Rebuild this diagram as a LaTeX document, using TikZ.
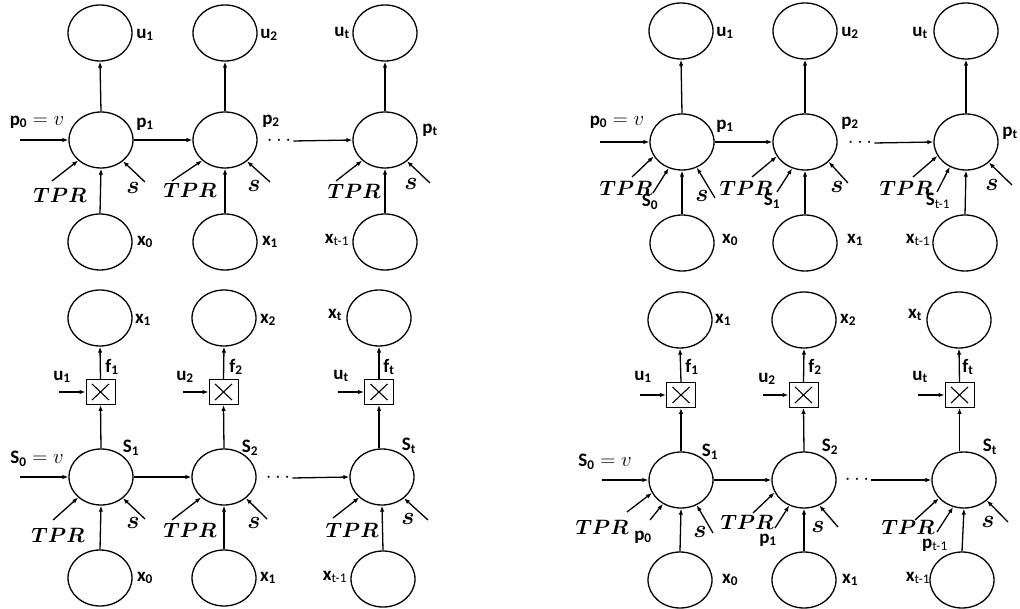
\documentclass[tikz,border=0pt]{standalone}
\usepackage{fontspec}
\setsansfont{Carlito}
\usepackage{bm}
\usetikzlibrary{shapes.geometric,arrows.meta}
\newcommand{\eqv}{{\fontsize{21}{24}\selectfont${}=v$}}
\newcommand{\TPRlab}{$\bm{TPR}$}
\newcommand{\slab}{{\fontsize{23}{26}\selectfont$\bm{s}$}}
\newcommand{\tmo}{\textsubscript{\mdseries t-1}}
\begin{document}
\begin{tikzpicture}[x=1pt,y=-1pt,
 ell/.style={ellipse, draw, line width=1.3pt, minimum width=64pt, minimum height=56pt, inner sep=0pt},
 mul/.style={rectangle, draw, line width=0.9pt, minimum width=29pt, minimum height=25pt, inner sep=0pt,
   path picture={\draw[line width=1.1pt]
     ([shift={(-8.5pt,-8pt)}]path picture bounding box.center) -- ([shift={(8.5pt,8pt)}]path picture bounding box.center)
     ([shift={(-8.5pt,8pt)}]path picture bounding box.center) -- ([shift={(8.5pt,-8pt)}]path picture bounding box.center);}},
 arr/.style={-{Latex[length=6pt,width=4.5pt]}, line width=1.3pt},
 lab/.style={font=\fontsize{19}{22}\sffamily\bfseries\selectfont, inner sep=0pt},
 mth/.style={font=\fontsize{21}{24}\selectfont, inner sep=0pt},
 dts/.style={font=\fontsize{20}{22}\selectfont, inner sep=2pt}]
\useasboundingbox (0,0) rectangle (1020,609);

%%%%%%%%%%%%%%%% Panel A (top left)
\node[ell] (Au1) at (100,33) {};
\node[ell] (Au2) at (225,33) {};
\node[ell] (Aut) at (385,33) {};
\node[ell] (Ap1) at (101,140) {};
\node[ell] (Ap2) at (225,140) {};
\node[ell] (Apt) at (385,140) {};
\node[ell] (Ax0) at (100,242) {};
\node[ell] (Ax1) at (225,242) {};
\node[ell] (Axt) at (385,242) {};
\node[lab] (Lau1) at (145,35) {u\textsubscript{1}};
\node[lab] (Lau2) at (269,35) {u\textsubscript{2}};
\node[lab] (Laut) at (342,33) {u\textsubscript{t}};
\node[lab] (Lap0) at (37,122) {p\textsubscript{0}\eqv};
\node[lab] (Lap1) at (145,124) {p\textsubscript{1}};
\node[lab] (Lap2) at (271,121) {p\textsubscript{2}};
\node[lab] (Lapt) at (430,130) {p\textsubscript{t}};
\node[lab] (Lax0) at (145,242) {x\textsubscript{0}};
\node[lab] (Lax1) at (270,242) {x\textsubscript{1}};
\node[lab] (Laxt) at (337,240) {x\tmo};
\node[mth] (Lat1) at (60,195) {\TPRlab};
\node[mth] (Lat2) at (190,190) {\TPRlab};
\node[mth] (Lat3) at (354,191) {\TPRlab};
\node[mth] (Las1) at (133,188) {\slab};
\node[mth] (Las2) at (254,186) {\slab};
\node[mth] (Las3) at (411,184) {\slab};
\node[dts] (Adots) at (279,141) {$\cdots$};
\coordinate (Ain) at (20,140);
\coordinate (Aa1) at (52,181); \coordinate (Ab1) at (145,182);
\coordinate (Aa2) at (172,181); \coordinate (Ab2) at (270,182);
\coordinate (Aa3) at (336,181); \coordinate (Ab3) at (430,183);
\draw[arr] (Ain) -- (Ap1.west);
\draw[arr] (Ap1.east) -- (Ap2.west);
\draw[arr] (Adots.east) -- (Apt.west);
\draw[arr] (Ap1.north) -- (Au1.south);
\draw[arr] (Ap2.north) -- (Au2.south);
\draw[arr] (Apt.north) -- (Aut.south);
\draw[arr] (Ax0.north) -- (Ap1.south);
\draw[arr] (Ax1.north) -- (Ap2.south);
\draw[arr] (Axt.north) -- (Apt.south);
\draw[arr] (Aa1) -- (Ap1.222); \draw[arr] (Ab1) -- (Ap1.316);
\draw[arr] (Aa2) -- (Ap2.222); \draw[arr] (Ab2) -- (Ap2.316);
\draw[arr] (Aa3) -- (Apt.222); \draw[arr] (Ab3) -- (Apt.316);

%%%%%%%%%%%%%%%% Panel B (bottom left)
\node[ell] (Bx1) at (100,318) {};
\node[ell] (Bx2) at (224,318) {};
\node[ell] (Bxt) at (379,318) {};
\node[mul] (Bm1) at (100.5,392) {};
\node[mul] (Bm2) at (223.5,392) {};
\node[mul] (Bmt) at (379,392) {};
\node[ell] (BS1) at (101,477) {};
\node[ell] (BS2) at (224,477) {};
\node[ell] (BSt) at (382,477) {};
\node[ell] (By0) at (100,578) {};
\node[ell] (By1) at (224,578) {};
\node[ell] (Byt) at (383,579) {};
\node[lab] (Lbx1) at (143,320) {x\textsubscript{1}};
\node[lab] (Lbx2) at (268,320) {x\textsubscript{2}};
\node[lab] (Lbxt) at (335,315) {x\textsubscript{t}};
\node[lab] (Lbf1) at (112,367) {f\textsubscript{1}};
\node[lab] (Lbf2) at (236,367) {f\textsubscript{2}};
\node[lab] (Lbft) at (389,367) {f\textsubscript{t}};
\node[lab] (Lbu1) at (62,377) {u\textsubscript{1}};
\node[lab] (Lbu2) at (185,377) {u\textsubscript{2}};
\node[lab] (Lbut) at (341,376) {u\textsubscript{t}};
\node[lab] (LbS0) at (37,459) {S\textsubscript{0}\eqv};
\node[lab] (LbS1) at (131,448) {S\textsubscript{1}};
\node[lab] (LbS2) at (250,448) {S\textsubscript{2}};
\node[lab] (LbSt) at (409,446) {S\textsubscript{t}};
\node[lab] (Lby0) at (145,578) {x\textsubscript{0}};
\node[lab] (Lby1) at (268,578) {x\textsubscript{1}};
\node[lab] (Lbyt) at (335,577) {x\tmo};
\node[mth] (Lbt1) at (58,535) {\TPRlab};
\node[mth] (Lbt2) at (190,530) {\TPRlab};
\node[mth] (Lbt3) at (352,530) {\TPRlab};
\node[mth] (Lbs1) at (133,523) {\slab};
\node[mth] (Lbs2) at (254,523) {\slab};
\node[mth] (Lbs3) at (408,519) {\slab};
\node[dts] (Bdots) at (278,478) {$\cdots$};
\coordinate (Bin) at (20,477);
\coordinate (Bu1) at (59,392); \coordinate (Bu2) at (183,392); \coordinate (But) at (338,392);
\coordinate (Ba1) at (53,520); \coordinate (Bb1) at (145,519);
\coordinate (Ba2) at (172,520); \coordinate (Bb2) at (267,519);
\coordinate (Ba3) at (333,518); \coordinate (Bb3) at (428,520);
\draw[arr] (Bin) -- (BS1.west);
\draw[arr] (BS1.east) -- (BS2.west);
\draw[arr] (Bdots.east) -- (BSt.west);
\draw[arr] (BS1.north) -- (Bm1.south);
\draw[arr] (BS2.north) -- (Bm2.south);
\draw[arr] (Bmt.south |- BSt.north) -- (Bmt.south);
\draw[arr] (Bm1.north) -- (Bx1.south);
\draw[arr] (Bm2.north) -- (Bx2.south);
\draw[arr] (Bmt.north) -- (Bxt.south);
\draw[arr] (Bu1) -- (Bm1.west);
\draw[arr] (Bu2) -- (Bm2.west);
\draw[arr] (But) -- (Bmt.west);
\draw[arr] (By0.north) -- (BS1.south);
\draw[arr] (By1.north) -- (BS2.south);
\draw[arr] (Byt.north) -- (BSt.south);
\draw[arr] (Ba1) -- (BS1.222); \draw[arr] (Bb1) -- (BS1.316);
\draw[arr] (Ba2) -- (BS2.222); \draw[arr] (Bb2) -- (BS2.316);
\draw[arr] (Ba3) -- (BSt.222); \draw[arr] (Bb3) -- (BSt.316);

%%%%%%%%%%%%%%%% Panel C (top right)
\node[ell] (Cu1) at (681,31) {};
\node[ell] (Cu2) at (805,31) {};
\node[ell] (Cut) at (966,31) {};
\node[ell] (Cp1) at (682,142) {};
\node[ell] (Cp2) at (805,142) {};
\node[ell] (Cpt) at (966,142) {};
\node[ell] (Cx0) at (682,243) {};
\node[ell] (Cx1) at (805,243) {};
\node[ell] (Cxt) at (965,243) {};
\node[lab] (Lcu1) at (725,33) {u\textsubscript{1}};
\node[lab] (Lcu2) at (850,33) {u\textsubscript{2}};
\node[lab] (Lcut) at (920,33) {u\textsubscript{t}};
\node[lab] (Lcp0) at (617,122) {p\textsubscript{0}\eqv};
\node[lab] (Lcp1) at (725,126) {p\textsubscript{1}};
\node[lab] (Lcp2) at (850,123) {p\textsubscript{2}};
\node[lab] (Lcpt) at (1010,133) {p\textsubscript{t}};
\node[lab] (Lcx0) at (730,240) {x\textsubscript{0}};
\node[lab] (Lcx1) at (855,240) {x\textsubscript{1}};
\node[lab] (Lcxt) at (918,240) {x\tmo};
\node[lab] (LcS0) at (650,202) {S\textsubscript{0}};
\node[lab] (LcS1) at (772,201) {S\textsubscript{1}};
\node[lab] (LcSt) at (938,201) {S\tmo};
\node[mth] (Lct1) at (626,188) {\TPRlab};
\node[mth] (Lct2) at (746,188) {\TPRlab};
\node[mth] (Lct3) at (906,188) {\TPRlab};
\node[mth] (Lcs1) at (702,196) {\slab};
\node[mth] (Lcs2) at (837,187) {\slab};
\node[mth] (Lcs3) at (992,185) {\slab};
\node[dts] (Cdots) at (860,143) {$\cdots$};
\coordinate (Cin) at (600,142);
\coordinate (Ca1) at (632,177); \coordinate (Cc1) at (653,193); \coordinate (Cb1) at (715,198);
\coordinate (Ca2) at (752,177); \coordinate (Cc2) at (777,192); \coordinate (Cb2) at (848,183);
\coordinate (Ca3) at (913,177); \coordinate (Cc3) at (937,192); \coordinate (Cb3) at (1012,185);
\draw[arr] (Cin) -- (Cp1.west);
\draw[arr] (Cp1.east) -- (Cp2.west);
\draw[arr] (Cdots.east) -- (Cpt.west);
\draw[arr] (Cp1.north) -- (Cu1.south);
\draw[arr] (Cp2.north) -- (Cu2.south);
\draw[arr] (Cpt.north) -- (Cut.south);
\draw[arr] (Cx0.north) -- (Cp1.south);
\draw[arr] (Cx1.north) -- (Cp2.south);
\draw[arr] (Cxt.north) -- (Cpt.south);
\draw[arr] (Ca1) -- (Cp1.207); \draw[arr] (Cc1) -- (Cp1.243); \draw[arr] (Cb1) -- (Cp1.300);
\draw[arr] (Ca2) -- (Cp2.207); \draw[arr] (Cc2) -- (Cp2.244); \draw[arr] (Cb2) -- (Cp2.320);
\draw[arr] (Ca3) -- (Cpt.206); \draw[arr] (Cc3) -- (Cpt.237); \draw[arr] (Cb3) -- (Cpt.318);

%%%%%%%%%%%%%%%% Panel D (bottom right)
\node[ell] (Dx1) at (680,320) {};
\node[ell] (Dx2) at (804,320) {};
\node[ell] (Dxt) at (959,320) {};
\node[mul] (Dm1) at (681,395) {};
\node[mul] (Dm2) at (803.5,395) {};
\node[mul] (Dmt) at (959.5,395) {};
\node[ell] (DS1) at (681,480) {};
\node[ell] (DS2) at (804,480) {};
\node[ell] (DSt) at (964,480) {};
\node[ell] (Dy0) at (680,580) {};
\node[ell] (Dy1) at (804,580) {};
\node[ell] (Dyt) at (962,580) {};
\node[lab] (Ldx1) at (723,320) {x\textsubscript{1}};
\node[lab] (Ldx2) at (848,320) {x\textsubscript{2}};
\node[lab] (Ldxt) at (915,315) {x\textsubscript{t}};
\node[lab] (Ldf1) at (692,367) {f\textsubscript{1}};
\node[lab] (Ldf2) at (815,367) {f\textsubscript{2}};
\node[lab] (Ldft) at (968,367) {f\textsubscript{t}};
\node[lab] (Ldu1) at (643,377) {u\textsubscript{1}};
\node[lab] (Ldu2) at (767,379) {u\textsubscript{2}};
\node[lab] (Ldut) at (920,377) {u\textsubscript{t}};
\node[lab] (LdS0) at (605,462) {S\textsubscript{0}\eqv};
\node[lab] (LdS1) at (710,452) {S\textsubscript{1}};
\node[lab] (LdS2) at (830,447) {S\textsubscript{2}};
\node[lab] (LdSt) at (990,447) {S\textsubscript{t}};
\node[lab] (Ldp0) at (643,537) {p\textsubscript{0}};
\node[lab] (Ldp1) at (768,540) {p\textsubscript{1}};
\node[lab] (Ldpt) at (935,545) {p\tmo};
\node[lab] (Ldy0) at (730,580) {x\textsubscript{0}};
\node[lab] (Ldy1) at (850,580) {x\textsubscript{1}};
\node[lab] (Ldyt) at (918,578) {x\tmo};
\node[mth] (Ldt1) at (602,527) {\TPRlab};
\node[mth] (Ldt2) at (747,522) {\TPRlab};
\node[mth] (Ldt3) at (908,527) {\TPRlab};
\node[mth] (Lds1) at (700,532) {\slab};
\node[mth] (Lds2) at (818,527) {\slab};
\node[mth] (Lds3) at (988,522) {\slab};
\node[dts] (Ddots) at (857,480) {$\cdots$};
\coordinate (Din) at (602,480);
\coordinate (Du1) at (640,395); \coordinate (Du2) at (763,395); \coordinate (Dut) at (918,395);
\coordinate (Da1) at (627,512); \coordinate (Dc1) at (650,520); \coordinate (Db1) at (713,533);
\coordinate (Da2) at (753,513); \coordinate (Dc2) at (775,528); \coordinate (Db2) at (838,527);
\coordinate (Da3) at (915,520); \coordinate (Dc3) at (937,532); \coordinate (Db3) at (1008,522);
\draw[arr] (Din) -- (DS1.west);
\draw[arr] (DS1.east) -- (DS2.west);
\draw[arr] (Ddots.east) -- (DSt.west);
\draw[arr] (DS1.north) -- (Dm1.south);
\draw[arr] (DS2.north) -- (Dm2.south);
\draw[arr] (Dmt.south |- DSt.north) -- (Dmt.south);
\draw[arr] (Dm1.north) -- (Dx1.south);
\draw[arr] (Dm2.north) -- (Dx2.south);
\draw[arr] (Dmt.north) -- (Dxt.south);
\draw[arr] (Du1) -- (Dm1.west);
\draw[arr] (Du2) -- (Dm2.west);
\draw[arr] (Dut) -- (Dmt.west);
\draw[arr] (Dy0.north) -- (DS1.south);
\draw[arr] (Dy1.north) -- (DS2.south);
\draw[arr] (Dyt.north) -- (DSt.south);
\draw[arr] (Da1) -- (DS1.204); \draw[arr] (Dc1) -- (DS1.233); \draw[arr] (Db1) -- (DS1.302);
\draw[arr] (Da2) -- (DS2.203); \draw[arr] (Dc2) -- (DS2.240); \draw[arr] (Db2) -- (DS2.301);
\draw[arr] (Da3) -- (DSt.216); \draw[arr] (Dc3) -- (DSt.248); \draw[arr] (Db3) -- (DSt.318);
\end{tikzpicture}
\end{document}
